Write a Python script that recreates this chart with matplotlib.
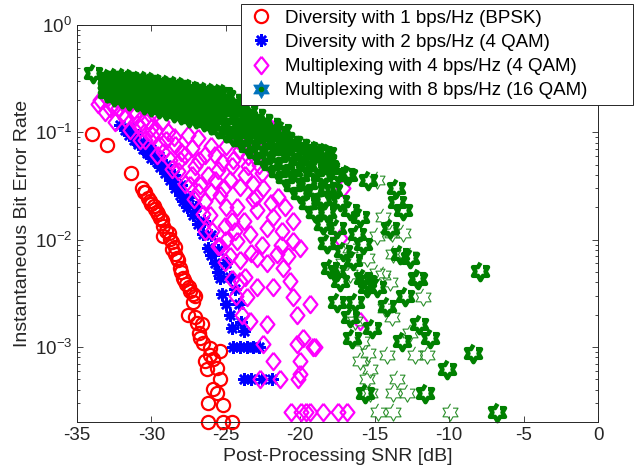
import numpy as np
import matplotlib.pyplot as plt
from matplotlib.lines import Line2D
from matplotlib.path import Path

plt.rcParams["font.family"] = ["Liberation Sans", "DejaVu Sans"]
plt.rcParams["mathtext.fontset"] = "custom"
plt.rcParams["mathtext.rm"] = "Liberation Sans"
plt.rcParams["mathtext.it"] = "Liberation Sans:italic"
plt.rcParams["axes.unicode_minus"] = False

labels = [
    "Diversity with 1 bps/Hz (BPSK)",
    "Diversity with 2 bps/Hz (4 QAM)",
    "Multiplexing with 4 bps/Hz (4 QAM)",
    "Multiplexing with 8 bps/Hz (16 QAM)",
]

# diversity, BPSK
red_snr = [-34.0, -33.0, -31.4, -30.65, -30.5, -30.4, -30.2, -30.1, -30.0, -29.85,
           -29.75, -29.6, -29.55, -29.4, -29.3, -29.25, -29.2, -29.0, -28.85, -28.75,
           -28.65, -28.6, -28.45, -28.4, -28.3, -28.2, -28.1, -28.0, -27.9, -27.8,
           -27.65, -27.5, -27.4, -27.2, -27.05, -27.2, -27.55, -27.1, -26.95, -26.6,
           -26.75, -26.55, -26.8, -26.05, -25.4, -26.4, -25.85, -25.6, -26.3, -26.1,
           -25.4, -25.85, -25.6, -26.2, -25.2, -26.2, -25.2, -24.6]
red_ber = [0.097, 0.0756, 0.0417, 0.030, 0.028, 0.0277, 0.0242, 0.023, 0.0217, 0.0205,
           0.0195, 0.018, 0.0175, 0.016, 0.0151, 0.0135, 0.0109, 0.012, 0.0115, 0.0102,
           0.0082, 0.0095, 0.0085, 0.0074, 0.0068, 0.0064, 0.0055, 0.0050, 0.0044, 0.0042,
           0.0039, 0.0036, 0.0033, 0.0031, 0.0030, 0.0026, 0.0020, 0.0019, 0.00168, 0.00164,
           0.00121, 0.00109, 0.00135, 0.00098, 0.00092, 0.00074, 0.00077, 0.00064, 0.00062, 0.00085,
           0.0005, 0.00041, 0.00037, 0.0003, 0.00029, 0.0002, 0.0002, 0.0002]

# diversity, 4 QAM
blue_snr = [-32.1, -31.8, -31.5, -31.2, -30.9, -30.6, -30.3, -30.0, -29.65, -29.4,
            -29.1, -28.75, -28.4, -28.1, -27.9, -27.6, -27.2, -26.9, -26.55, -26.2,
            -26.0, -25.75, -25.55, -25.4, -25.25, -25.0, -24.7, -24.6,
            -31.5, -31.0, -30.5, -30.0, -29.5, -29.0, -28.5, -28.0, -27.5, -27.0,
            -26.5, -26.0, -25.5, -25.0, -24.7, -24.4, -24.1, -24.0, -23.8,
            -24.5, -24.05, -23.6, -23.2, -22.8,
            -23.8, -23.3, -22.6, -21.9]
blue_ber = [0.116, 0.105, 0.095, 0.085, 0.077, 0.07, 0.064, 0.058, 0.0525, 0.048,
            0.042, 0.0356, 0.030, 0.026, 0.0231, 0.020, 0.0168, 0.014, 0.0114, 0.0084,
            0.0072, 0.006, 0.005, 0.0044, 0.0031, 0.0025, 0.002, 0.0015,
            0.11, 0.095, 0.08, 0.07, 0.06, 0.05, 0.04, 0.032, 0.025, 0.02,
            0.015, 0.011, 0.008, 0.006, 0.0045, 0.0035, 0.0025, 0.0017, 0.0014,
            0.001, 0.001, 0.001, 0.001, 0.001,
            0.0005, 0.0005, 0.0005, 0.0005]

# multiplexing, 4 QAM
pink_snr = [-33.6, -33.45, -32.98, -33.12, -32.65, -32.25, -32.45, -31.57, -31.78, -31.10,
            -30.63, -31.44, -29.96, -29.29, -29.96, -30.43, -28.89, -29.42, -28.42, -27.54,
            -26.87, -27.74, -28.75, -28.21, -27.07, -26.40, -25.73, -25.26, -24.59, -23.51,
            -22.57, -22.17, -21.70, -22.50, -23.04, -24.05, -24.72, -25.73, -26.74, -27.41,
            -26.40, -25.39, -24.52, -24.05, -23.18, -24.25, -22.91, -22.24, -23.38, -21.83,
            -24.25, -20.49, -20.02, -24.05, -22.91, -22.24, -21.56, -21.16, -22.91, -21.83,
            -20.69, -20.49, -19.35, -20.22, -23.58, -23.38, -22.24, -22.50, -21.83, -20.22,
            -19.82, -19.15, -20.02, -22.71, -21.36, -20.15, -20.62, -19.95, -19.62, -19.35,
            -18.47, -17.47, -16.86, -17.13, -17.33, -15.99, -19.01, -20.02, -26.07, -25.06,
            -25.39, -24.72, -26.40, -24.05, -24.39, -25.0, -23.8, -23.0, -22.0, -21.2,
            -20.8, -23.7,
            -30.77, -29.62, -28.62, -27.74, -27.14, -26.54, -25.93, -25.53, -25.06, -24.59,
            -24.32, -23.92,
            -32.0, -31.2, -30.8, -30.2, -29.7, -29.0, -28.5, -28.0, -27.3, -26.8,
            -26.0, -25.5, -25.0, -24.2, -23.5, -23.0, -23.7, -22.8, -26.2, -25.1,
            -26.0, -23.2, -22.5, -21.5, -21.0, -20.5, -21.3, -22.6, -23.3, -25.0,
            -24.6, -28.1, -27.3, -26.9, -29.2, -31.0, -30.0, -32.8, -31.9]
pink_ber = [0.185, 0.199, 0.208, 0.154, 0.179, 0.168, 0.124, 0.179, 0.135, 0.144,
            0.124, 0.104, 0.154, 0.124, 0.094, 0.084, 0.100, 0.076, 0.076, 0.094,
            0.088, 0.061, 0.055, 0.044, 0.049, 0.061, 0.061, 0.0525, 0.049, 0.049,
            0.042, 0.116, 0.109, 0.090, 0.068, 0.068, 0.036, 0.036, 0.032, 0.032,
            0.023, 0.026, 0.055, 0.031, 0.033, 0.020, 0.0187, 0.0129, 0.0114, 0.0161,
            0.0098, 0.0098, 0.0084, 0.0064, 0.0068, 0.0060, 0.0074, 0.0055, 0.0036, 0.0036,
            0.0041, 0.0029, 0.0025, 0.0020, 0.0029, 0.00175, 0.00164, 0.00107, 0.00074, 0.00107,
            0.00121, 0.001, 0.00074, 0.0005, 0.0005, 0.0005, 0.00025, 0.00025, 0.00025, 0.00025,
            0.00025, 0.00025, 0.00025, 0.0306, 0.0104, 0.00175, 0.001, 0.00056, 0.0168, 0.0135,
            0.0088, 0.0071, 0.0121, 0.0041, 0.0121, 0.020, 0.015, 0.025, 0.022, 0.012,
            0.007, 0.0045,
            0.084, 0.061, 0.046, 0.033, 0.024, 0.0175, 0.0121, 0.0088, 0.0062, 0.0043,
            0.003, 0.002,
            0.19, 0.16, 0.11, 0.13, 0.105, 0.085, 0.09, 0.065, 0.072, 0.055,
            0.075, 0.045, 0.075, 0.085, 0.06, 0.085, 0.04, 0.05, 0.04, 0.03,
            0.028, 0.024, 0.03, 0.025, 0.02, 0.015, 0.009, 0.009, 0.0075, 0.01,
            0.015, 0.055, 0.04, 0.028, 0.065, 0.12, 0.11, 0.17, 0.15]

# multiplexing, 16 QAM: dense band (one column of points per SNR value)
band_snr = [-33.0, -32.5, -32.0, -31.5, -31.0, -30.5, -30.0, -29.5, -29.0, -28.5,
            -28.0, -27.5, -27.0, -26.5, -26.0, -25.5, -25.0, -24.5, -24.0, -23.5,
            -23.0, -22.5, -22.0, -21.5, -21.0, -20.5, -20.0, -19.5, -19.0, -18.5, -18.2]
band_ber = [
    [0.32, 0.29, 0.26, 0.24], [0.33, 0.29, 0.25, 0.22], [0.33, 0.28, 0.24, 0.21],
    [0.32, 0.27, 0.23, 0.20], [0.31, 0.27, 0.23, 0.195], [0.305, 0.26, 0.22, 0.185],
    [0.30, 0.25, 0.21, 0.175], [0.29, 0.245, 0.205, 0.17], [0.28, 0.24, 0.195, 0.16],
    [0.275, 0.23, 0.19, 0.155], [0.27, 0.225, 0.18, 0.147], [0.26, 0.215, 0.175, 0.14],
    [0.25, 0.21, 0.17, 0.135], [0.245, 0.20, 0.16, 0.127], [0.24, 0.195, 0.155, 0.12],
    [0.23, 0.185, 0.145, 0.11], [0.22, 0.175, 0.135, 0.10], [0.20, 0.16, 0.12, 0.092],
    [0.18, 0.145, 0.11, 0.085], [0.16, 0.13, 0.10, 0.075], [0.145, 0.115, 0.09, 0.065],
    [0.13, 0.105, 0.08, 0.058], [0.12, 0.095, 0.07, 0.051], [0.10, 0.08, 0.06, 0.044],
    [0.088, 0.07, 0.052, 0.038], [0.082, 0.063, 0.045, 0.032], [0.076, 0.057, 0.04, 0.027],
    [0.072, 0.05, 0.034, 0.022], [0.068, 0.045, 0.029, 0.018], [0.06, 0.04, 0.024, 0.014],
    [0.055, 0.03, 0.018, 0.0093],
]

# 16 QAM points hit by several realisations (drawn bold)
green_snr = [-33.9, -25.2, -24.4, -23.5, -22.6, -21.2, -20.6, -19.7, -18.5, -18.1,
             -17.5, -16.8, -18.2, -18.0, -16.9, -15.45, -13.6, -13.5, -13.1, -14.0,
             -13.3, -12.6, -12.15, -16.65, -16.0, -16.2, -15.8, -17.55, -17.35, -17.8,
             -17.1, -16.45, -15.5, -14.85, -17.55, -18.0, -7.9, -12.1, -12.95, -14.2,
             -17.55, -16.3, -16.65, -16.5, -15.2, -13.2, -12.0, -11.3, -8.4, -10.15,
             -15.65, -11.6, -6.8, -15.8, -15.5, -17.35]
green_ber = [0.36, 0.231, 0.16, 0.138, 0.109, 0.104, 0.081, 0.0525, 0.065, 0.049,
             0.042, 0.040, 0.064, 0.047, 0.0412, 0.0356, 0.030, 0.0222, 0.0187, 0.0129,
             0.0074, 0.0068, 0.0044, 0.0187, 0.0161, 0.0114, 0.0092, 0.0129, 0.0231, 0.0287,
             0.0079, 0.0064, 0.0041, 0.0036, 0.0051, 0.0055, 0.0051, 0.0043, 0.003, 0.0024,
             0.0026, 0.0026, 0.0019, 0.00121, 0.0015, 0.00114, 0.00164, 0.00121, 0.00088, 0.00063,
             0.00037, 0.00037, 0.00025, 0.0044, 0.0036, 0.0041]

# 16 QAM points from a single realisation (thin)
single_snr = [-14.85, -13.1, -14.45, -14.85, -13.85, -13.1, -13.8, -12.6, -14.85, -14.0,
              -11.75, -14.3, -13.85, -12.6, -14.2, -12.3, -11.5, -15.45, -16.0, -15.3,
              -15.5, -13.5, -13.8, -12.8, -15.3, -14.8, -13.8, -9.95, -17.1, -16.65,
              -14.45, -15.5, -16.65, -14.0, -16.3, -15.85]
single_ber = [0.0356, 0.0195, 0.0161, 0.0109, 0.0115, 0.0115, 0.0074, 0.0071, 0.0049, 0.0040,
              0.0029, 0.0023, 0.0019, 0.00136, 0.00085, 0.00085, 0.00085, 0.00088, 0.00074, 0.00063,
              0.0005, 0.0005, 0.00037, 0.00037, 0.00037, 0.00025, 0.00025, 0.00025, 0.006, 0.0048,
              0.0047, 0.0068, 0.0084, 0.012, 0.00175, 0.00114]

ang = np.pi / 2 + np.arange(12) * np.pi / 6
rad = np.where(np.arange(12) % 2 == 0, 1.0, 1 / np.sqrt(3))
hexagram = Path(np.column_stack([rad * np.cos(ang), rad * np.sin(ang)]), closed=False)
diamond = Path([(0, 1), (0.8, 0), (0, -1), (-0.8, 0), (0, 1)])

green = "#008000"

band_x = [s for s, col in zip(band_snr, band_ber) for _ in col]
band_y = [b for col in band_ber for b in col]

fig = plt.figure(figsize=(6.44, 4.75), dpi=100)
ax = fig.add_axes([0.1196, 0.1116, 0.8090, 0.8358])

ax.plot(red_snr, red_ber, ls="none", marker="o", ms=9.5, mfc="none",
        mec="red", mew=1.6, clip_on=False)
ax.plot(blue_snr, blue_ber, ls="none", marker=(8, 2, 0), ms=9,
        color="blue", mec="blue", mew=1.8, clip_on=False)
ax.plot(pink_snr, pink_ber, ls="none", marker=diamond, ms=12.5, mfc="none",
        mec="magenta", mew=1.6, clip_on=False)
ax.plot(band_x, band_y, ls="none", marker=hexagram, ms=12.5, mfc="none",
        mec=green, mew=3.4, clip_on=False)
ax.plot(single_snr, single_ber, ls="none", marker=hexagram, ms=12.5, mfc="none",
        mec="#2b8f2b", mew=0.8, clip_on=False)
ax.plot(green_snr, green_ber, ls="none", marker=hexagram, ms=12.5, mfc="none",
        mec=green, mew=3.2, clip_on=False)

ax.set_yscale("log")
ax.set_xlim(-35, 0)
ax.set_ylim(2e-4, 1)
ax.set_xticks(range(-35, 1, 5))

ax.set_xlabel("Post-Processing SNR [dB]", fontsize=14, color="0.15", labelpad=3)
ax.set_ylabel("Instantaneous Bit Error Rate", fontsize=14, color="0.15", labelpad=3)

ax.tick_params(which="both", direction="in", top=True, right=True,
               labelsize=13.5, colors="0.15", width=0.6)
ax.tick_params(which="major", length=4.5)
ax.tick_params(which="minor", length=2.5)
for sp in ax.spines.values():
    sp.set_color("0.15")
    sp.set_linewidth(0.7)

handles = [
    Line2D([], [], ls="none", marker="o", ms=9.5, mfc="none", mec="red", mew=1.6),
    Line2D([], [], ls="none", marker=(8, 2, 0), ms=9, color="blue", mew=1.8),
    Line2D([], [], ls="none", marker=diamond, ms=12.5, mfc="none", mec="magenta", mew=1.6),
    (Line2D([], [], ls="none", marker=hexagram, ms=13, mfc="#0072bd", mec="#0072bd", mew=0.5),
     Line2D([], [], ls="none", marker="o", ms=3, mfc=green, mec=green)),
]
leg = ax.legend(handles, labels, loc="upper left", mode="expand",
                bbox_to_anchor=(0.315, 0.793, 0.752, 0.26),
                fontsize=13.5, frameon=True, fancybox=False, framealpha=1,
                edgecolor="0.15", handlelength=1.5, handletextpad=0.55,
                labelspacing=0.38, borderpad=0.3, borderaxespad=0)
leg.get_frame().set_linewidth(0.7)

plt.savefig("out.png", dpi=100)
plt.close()
